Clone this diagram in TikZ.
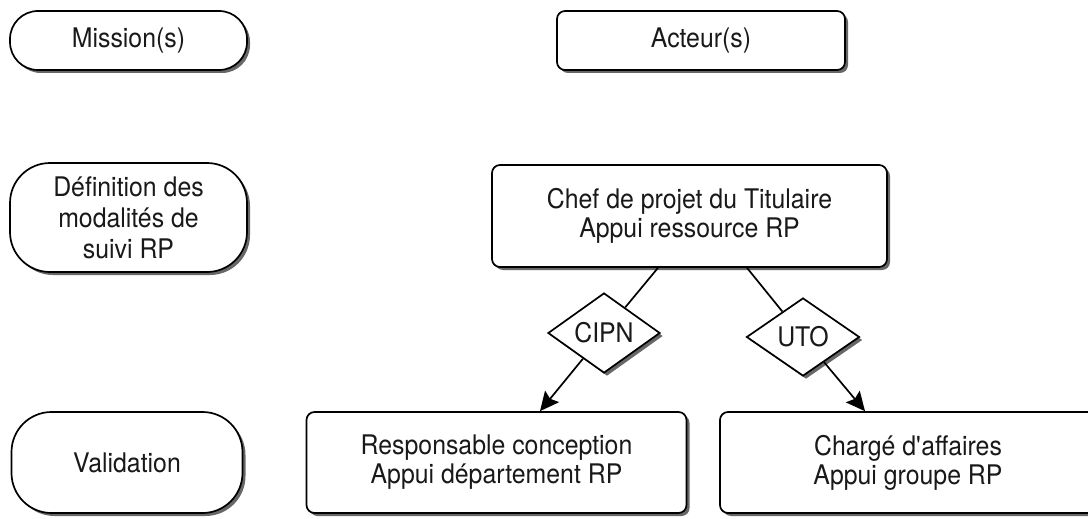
\documentclass[tikz,border=0pt]{standalone}
\usepackage{fontspec}
\setmainfont{TeX Gyre Heros}[FakeStretch=0.92]
\usetikzlibrary{shapes.geometric,shadows,arrows.meta}
\begin{document}
\begin{tikzpicture}[x=1pt,y=-1pt,
  every node/.style={font=\fontsize{27}{29}\selectfont, align=center, inner sep=0pt, text=black!90},
  shade/.style={drop shadow={shadow xshift=3pt,shadow yshift=-3pt,fill=black!70,opacity=0.85}},
  mission/.style={draw, line width=1.7pt, fill=white, rounded corners=28pt, shade},
  actor/.style={draw, line width=1.7pt, fill=white, rounded corners=8pt, shade},
  choice/.style={draw, diamond, line width=1.7pt, fill=white, shade, inner sep=0pt},
  link/.style={line width=1.7pt},
  arrow/.style={link, -{Stealth[length=19pt,width=18pt,inset=3pt]}}]
  \useasboundingbox (0,0) rectangle (1088,519);
  \clip (0,0) rectangle (1088,519);

  % column headers
  \node[mission, minimum width=237pt, minimum height=59pt] (mis) at (128.5,40.5) {Mission(s)};
  \node[actor, minimum width=288pt, minimum height=59pt] (act) at (701,40.5) {Acteur(s)};

  % first step
  \node[mission, rounded corners=40pt, minimum width=237pt, minimum height=109pt,
    font=\fontsize{27}{31}\selectfont]
    (def) at (128.5,217.5) {Définition des\\modalités de\\suivi RP};
  \node[actor, minimum width=395pt, minimum height=102pt] (chef) at (689.5,216)
    {Chef de projet du Titulaire\\Appui ressource RP};

  % validation step
  \node[mission, rounded corners=40pt, minimum width=231pt, minimum height=101pt] (val) at (127,462.5) {Validation};
  \node[actor, minimum width=380pt, minimum height=101pt] (resp) at (496.5,462.5)
    {Responsable conception\\Appui département RP};
  \node[actor, minimum width=376pt, minimum height=101pt] (charge) at (908,462.5)
    {Chargé d\textquotesingle affaires\\Appui groupe RP};

  % branch conditions
  \node[choice, minimum width=112pt, minimum height=77pt] (cipn) at (604,333) {CIPN};
  \node[choice, minimum width=113pt, minimum height=78pt] (uto) at (803,337) {UTO};

  % connector ends on the box edges
  \coordinate (c1) at (chef.south -| 658,0);
  \coordinate (c2) at (chef.south -| 747,0);
  \coordinate (r1) at (resp.north -| 540,0);
  \coordinate (r2) at (charge.north -| 865,0);

  \draw[link] (c1) -- (cipn);
  \draw[arrow] (cipn) -- (r1);
  \draw[link] (c2) -- (uto);
  \draw[arrow] (uto) -- (r2);
\end{tikzpicture}
\end{document}
